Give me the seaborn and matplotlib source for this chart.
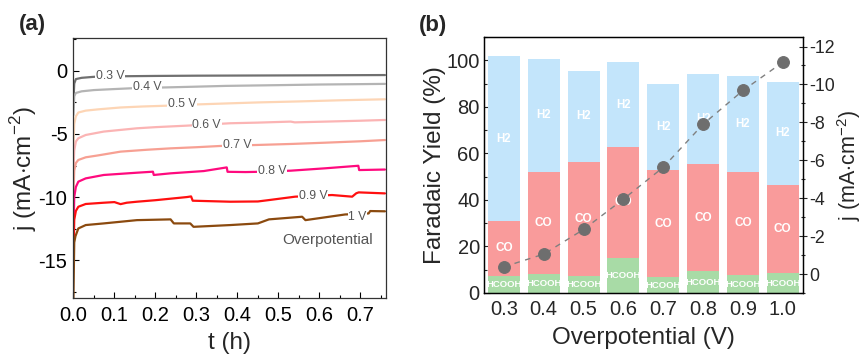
import numpy as np
import pandas as pd
import matplotlib
matplotlib.use("Agg")
import matplotlib.pyplot as plt
from matplotlib.ticker import MultipleLocator, FixedLocator
import seaborn as sns

# ---------------- data: panel (a) chronoamperometry ----------------
t_03 = [0, 0.002, 0.006, 0.02, 0.05, 0.1, 0.2, 0.3, 0.4, 0.5, 0.6, 0.76]
j_03 = [-2.5, -1.0, -0.65, -0.55, -0.47, -0.43, -0.40, -0.38, -0.37, -0.36, -0.35, -0.33]
t_04 = [0, 0.002, 0.006, 0.02, 0.05, 0.1, 0.14, 0.2, 0.3, 0.37, 0.5, 0.6, 0.7, 0.76]
j_04 = [-3.5, -2.0, -1.75, -1.62, -1.52, -1.44, -1.38, -1.33, -1.25, -1.19, -1.13, -1.08, -1.05, -1.03]
t_05 = [0, 0.002, 0.006, 0.012, 0.03, 0.06, 0.115, 0.17, 0.237, 0.3, 0.383, 0.45, 0.55, 0.65, 0.76]
j_05 = [-6, -4.2, -3.6, -3.3, -3.15, -3.05, -2.9, -2.82, -2.75, -2.66, -2.57, -2.5, -2.42, -2.33, -2.25]
t_06 = [0, 0.002, 0.006, 0.012, 0.03, 0.074, 0.155, 0.2, 0.277, 0.383, 0.45, 0.53, 0.54, 0.615, 0.7, 0.76]
j_06 = [-8, -6.3, -5.6, -5.34, -5.08, -4.81, -4.55, -4.46, -4.34, -4.15, -4.1, -4.02, -4.08, -4.02, -3.95, -3.89]
t_07 = [0, 0.002, 0.006, 0.012, 0.03, 0.06, 0.115, 0.18, 0.237, 0.3, 0.359, 0.45, 0.533, 0.615, 0.7, 0.76]
j_07 = [-10, -7.9, -7.3, -7.06, -6.85, -6.7, -6.4, -6.25, -6.14, -6.05, -5.95, -5.87, -5.79, -5.69, -5.58, -5.48]
t_08 = [0, 0.002, 0.006, 0.012, 0.03, 0.074, 0.155, 0.194, 0.196, 0.237, 0.318, 0.374, 0.376,
        0.42, 0.45, 0.53, 0.615, 0.695, 0.697, 0.76]
j_08 = [-13, -10.0, -9.2, -8.78, -8.52, -8.25, -8.07, -7.99, -8.25, -8.12, -7.94, -7.65, -8.0,
        -8.02, -8.0, -7.91, -7.72, -7.52, -7.86, -7.82]
t_09 = [0, 0.002, 0.006, 0.012, 0.03, 0.074, 0.1, 0.115, 0.13, 0.155, 0.2, 0.277, 0.287, 0.291,
        0.383, 0.45, 0.477, 0.541, 0.631, 0.68, 0.69, 0.696, 0.76]
j_09 = [-15, -11.8, -11.1, -10.77, -10.55, -10.45, -10.4, -10.56, -10.45, -10.37, -10.25, -10.0, -9.95, -10.29,
        -10.37, -10.35, -10.24, -9.97, -9.84, -9.97, -9.7, -9.63, -9.71]
t_10 = [0, 0.002, 0.005, 0.012, 0.03, 0.074, 0.155, 0.237, 0.245, 0.285, 0.293, 0.383, 0.45, 0.477,
        0.558, 0.566, 0.663, 0.72, 0.724, 0.76]
j_10 = [-18, -13.6, -13.1, -12.49, -12.22, -12.09, -11.83, -11.77, -12.09, -12.09, -12.36, -12.22, -12.09, -11.77,
        -11.56, -11.83, -11.38, -11.3, -11.11, -11.13]

curve_names = ["0.3 V", "0.4 V", "0.5 V", "0.6 V", "0.7 V", "0.8 V", "0.9 V", "1 V"]
curve_t = [t_03, t_04, t_05, t_06, t_07, t_08, t_09, t_10]
curve_j = [j_03, j_04, j_05, j_06, j_07, j_08, j_09, j_10]
curve_colors = ["#707070", "#b4b4b4", "#fdd5b5", "#fbb4b4", "#f7a093", "#ff0a7e", "#ff1010", "#8b4a0f"]
# label anchor (t, j) for the in-line labels
label_t = [0.09, 0.18, 0.265, 0.325, 0.40, 0.485, 0.585, 0.693]
label_j = [-0.42, -1.3, -2.6, -4.3, -5.9, -7.95, -9.95, -11.55]

# ---------------- data: panel (b) faradaic yield ----------------
overpot = ["0.3", "0.4", "0.5", "0.6", "0.7", "0.8", "0.9", "1.0"]
fe_hcooh = [7.3, 8.0, 7.3, 15.2, 6.7, 9.3, 7.6, 8.4]
fe_co = [23.7, 44.2, 49.2, 47.5, 46.1, 46.2, 44.6, 38.1]
fe_h2 = [70.7, 48.5, 38.8, 36.4, 36.8, 38.5, 41.2, 44.1]
j_avg = [-0.38, -1.05, -2.35, -3.95, -5.63, -7.9, -9.68, -11.17]

# ---------------- style ----------------
sns.set_theme(style="white")
plt.rcParams["font.family"] = ["Liberation Sans", "DejaVu Sans"]
plt.rcParams["axes.unicode_minus"] = False
plt.rcParams["mathtext.fontset"] = "custom"
plt.rcParams["mathtext.rm"] = "Liberation Sans"

TICK = 14.5
LAB = 17.5

fig = plt.figure(figsize=(8.65, 3.56), dpi=100)
axa = fig.add_axes([0.0844, 0.163, 0.3616, 0.730])
axb = fig.add_axes([0.5595, 0.177, 0.3685, 0.719])

# ---------------- panel (a) ----------------
rows = []
for name, tt, jj in zip(curve_names, curve_t, curve_j):
    for a, b in zip(tt, jj):
        rows.append((name, a, b))
dfa = pd.DataFrame(rows, columns=["curve", "t", "j"])
sns.lineplot(data=dfa, x="t", y="j", hue="curve", hue_order=curve_names,
             palette=dict(zip(curve_names, curve_colors)), estimator=None, sort=False,
             linewidth=1.6, legend=False, ax=axa)
for name, lt, lj in zip(curve_names, label_t, label_j):
    axa.text(lt, lj, name, fontsize=8.8, color="#555555", ha="center", va="center", zorder=5,
             bbox=dict(facecolor="white", edgecolor="none", pad=0.6))
axa.text(0.62, -13.4, "Overpotential", fontsize=11, color="#555555", ha="center", va="center")

axa.set_xlim(-0.001, 0.762)
axa.set_ylim(-18, 2.6)
axa.xaxis.set_minor_locator(MultipleLocator(0.05))
axa.set_xticks([0.0, 0.1, 0.2, 0.3, 0.4, 0.5, 0.6, 0.7])
axa.set_xticklabels(["0.0", "0.1", "0.2", "0.3", "0.4", "0.5", "0.6", "0.7"])
axa.set_yticks([0, -5, -10, -15])
axa.set_yticklabels(["0", "-5", "-10", "-15"])
axa.yaxis.set_minor_locator(MultipleLocator(2.5))
axa.tick_params(axis="both", which="both", direction="in", labelsize=TICK, colors="black",
                top=False, right=False, bottom=True, left=True)
axa.tick_params(axis="x", pad=6)
axa.tick_params(axis="y", pad=4)
axa.tick_params(which="major", length=4, width=0.8)
axa.tick_params(which="minor", length=2.5, width=0.8)
axa.set_xlabel("t (h)", fontsize=LAB, labelpad=5)
axa.set_ylabel(r"j (mA$\cdot$cm$^{-2}$)", fontsize=LAB, labelpad=0)
for s in axa.spines.values():
    s.set_color("#333333")
    s.set_linewidth(0.9)

# ---------------- panel (b) ----------------
tot = [a + b + c for a, b, c in zip(fe_hcooh, fe_co, fe_h2)]
co_top = [a + b for a, b in zip(fe_hcooh, fe_co)]
kw = dict(width=0.8, saturation=1, linewidth=0, ax=axb)
sns.barplot(x=overpot, y=tot, color="#c3e5fb", **kw)
sns.barplot(x=overpot, y=co_top, color="#f99b9b", **kw)
sns.barplot(x=overpot, y=fe_hcooh, color="#a8dba6", **kw)
for i in range(len(overpot)):
    axb.text(i, co_top[i] + fe_h2[i] / 2, "H2", color="white", fontsize=8.3, fontweight="bold",
             ha="center", va="center")
    axb.text(i, fe_hcooh[i] + fe_co[i] / 2, "CO", color="white", fontsize=8.5, fontweight="bold",
             ha="center", va="center")
    axb.text(i, fe_hcooh[i] / 2, "HCOOH", color="white", fontsize=6.8, fontweight="bold",
             ha="center", va="center")

axb.set_xlim(-0.5, 7.5)
axb.set_ylim(0, 110)
axb.yaxis.set_major_locator(FixedLocator([0, 20, 40, 60, 80, 100]))
axb.yaxis.set_minor_locator(MultipleLocator(10))
axb.tick_params(axis="both", which="both", direction="in", labelsize=TICK,
                top=False, right=False, bottom=True, left=True)
axb.tick_params(axis="x", pad=5)
axb.tick_params(axis="y", pad=3)
axb.tick_params(which="major", length=4, width=0.8)
axb.tick_params(which="minor", length=2.5, width=0.8)
axb.set_xlabel("Overpotential (V)", fontsize=LAB, labelpad=6)
axb.set_ylabel("Faradaic Yield (%)", fontsize=LAB, labelpad=0)

ax2 = axb.twinx()
sns.lineplot(x=np.arange(len(overpot)), y=j_avg, ax=ax2, color="#808080", linestyle=(0, (4, 4)),
             linewidth=1.0, marker="o", markersize=8.5, markerfacecolor="#6e6e6e",
             markeredgecolor="#6e6e6e", sort=False)
ax2.set_ylim(1.0, -12.5)
ax2.set_yticks([0, -2, -4, -6, -8, -10, -12])
ax2.set_yticklabels(["0", "-2", "-4", "-6", "-8", "-10", "-12"])
ax2.yaxis.set_minor_locator(MultipleLocator(1))
ax2.tick_params(axis="y", which="both", direction="inout", labelsize=12.8, right=True, pad=2)
ax2.tick_params(axis="y", which="major", length=6, width=0.8)
ax2.tick_params(axis="y", which="minor", length=3, width=0.8)
ax2.set_ylabel(r"j (mA$\cdot$cm$^{-2}$)", fontsize=15.5, labelpad=0)
axb.set_xlim(-0.5, 7.5)
axb.set_xticks(range(len(overpot)))
axb.set_xticklabels(overpot)
for ax in (axb, ax2):
    for s in ax.spines.values():
        s.set_color("black")
        s.set_linewidth(0.9)

fig.text(0.037, 0.93, "(a)", fontsize=16, fontweight="bold", ha="center", va="center")
fig.text(0.501, 0.927, "(b)", fontsize=16, fontweight="bold", ha="center", va="center")

fig.savefig("out.png", dpi=100)
